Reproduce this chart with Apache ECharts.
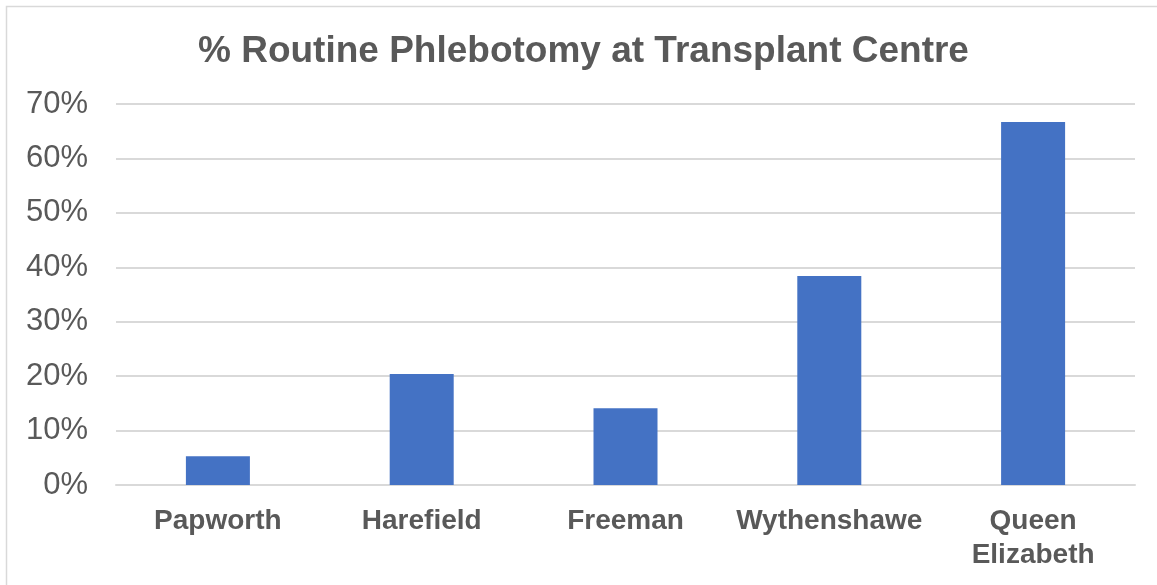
<!DOCTYPE html>
<html>
<head>
<meta charset="utf-8">
<script src="https://cdn.jsdelivr.net/npm/echarts@6/dist/echarts.min.js"></script>
<style>
html,body{margin:0;padding:0;background:#fff;}
#chart{width:1157px;height:585px;}
</style>
</head>
<body>
<div id="chart"></div>
<script>
const titleText = '% Routine Phlebotomy at Transplant Centre';
const categories = ['Papworth', 'Harefield', 'Freeman', 'Wythenshawe', 'Queen\nElizabeth'];
const values = [5.3, 20.4, 14.1, 38.4, 66.7];
const yTicks = { min: 0, max: 70, interval: 10 };

const chart = echarts.init(document.getElementById('chart'));
chart.setOption({
  backgroundColor: '#ffffff',
  animation: false,
  graphic: [{
    type: 'rect',
    shape: { x: 6.5, y: 6.5, width: 1170, height: 600 },
    style: { fill: 'none', stroke: '#d9d9d9', lineWidth: 1.5 },
    silent: true
  }],
  title: {
    text: titleText,
    left: 193,
    top: 28,
    textStyle: {
      fontFamily: 'Liberation Sans, Arial, sans-serif',
      fontSize: 37,
      fontWeight: 'bold',
      color: '#595959'
    }
  },
  grid: { left: 116, right: 22, top: 104, bottom: 100, containLabel: false },
  xAxis: {
    type: 'category',
    data: categories,
    axisLine: { show: true, lineStyle: { color: '#d9d9d9', width: 2 } },
    axisTick: { show: false },
    axisLabel: {
      margin: 19,
      fontFamily: 'Liberation Sans, Arial, sans-serif',
      fontSize: 28,
      fontWeight: 'bold',
      color: '#595959',
      lineHeight: 34,
      interval: 0
    }
  },
  yAxis: {
    type: 'value',
    min: yTicks.min,
    max: yTicks.max,
    interval: yTicks.interval,
    axisLine: { show: false },
    axisTick: { show: false },
    splitLine: { lineStyle: { color: '#d9d9d9', width: 2 } },
    axisLabel: {
      margin: 28,
      formatter: '{value}%',
      fontFamily: 'Liberation Sans, Arial, sans-serif',
      fontSize: 31,
      color: '#595959'
    }
  },
  series: [{
    type: 'bar',
    data: values,
    barWidth: 64,
    itemStyle: { color: '#4472C4' }
  }]
});
</script>
</body>
</html>
